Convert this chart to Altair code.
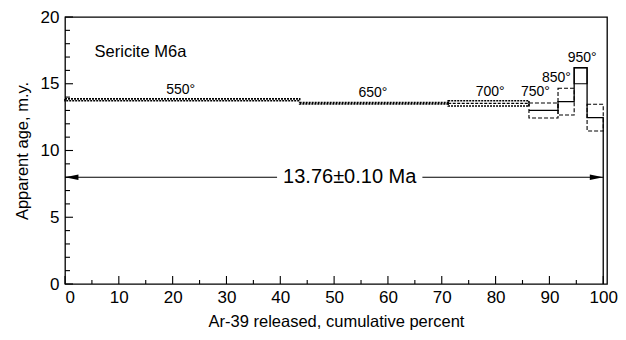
import altair as alt
import pandas as pd

# ---------------- data ----------------
step_temp = ["550°", "650°", "700°", "750°", "850°", "950°", ""]
step_start = [0.0, 43.6, 71.2, 86.2, 91.6, 94.6, 97.0]
step_end = [43.6, 71.2, 86.2, 91.6, 94.6, 97.0, 100.0]
step_age = [13.80, 13.54, 13.53, 13.00, 13.66, 15.60, 12.46]
step_err = [0.07, 0.06, 0.20, 0.56, 1.00, 0.60, 1.00]

label_x = [21.5, 57.2, 79.0, 87.4, 91.3, 96.1]
label_y = [14.5, 14.3, 14.4, 14.4, 15.4, 16.9]

sample_name = "Sericite M6a"
plateau_text = "13.76±0.10 Ma"
plateau_from = 0.0
plateau_to = 100.0
arrow_level = 8.0
text_gap = [39.4, 66.4]

x_ticks = list(range(0, 101, 10))
x_minor = list(range(5, 100, 10))
y_ticks = [0, 5, 10, 15, 20]
y_minor = [v for v in range(1, 20) if v % 5 != 0]

W, H = 542, 267
FONT = "Liberation Sans"

xs = alt.Scale(domain=[0, 100.7], nice=False, zero=False)
ys = alt.Scale(domain=[0, 20], nice=False)

axis_x = alt.Axis(values=x_ticks, title="Ar-39 released, cumulative percent",
                  ticks=False, domain=False, grid=False, labelPadding=5, titlePadding=8)
axis_y = alt.Axis(values=y_ticks, title="Apparent age, m.y.", ticks=False,
                  domain=False, grid=False, labelPadding=6, titlePadding=10)


def X(f):
    return alt.X(f, scale=xs, axis=axis_x)


def Y(f):
    return alt.Y(f, scale=ys, axis=axis_y)


# ---------------- tables ----------------
kinds = []
for i in range(len(step_start)):
    if i <= 2:
        kinds.append("fine")
    elif step_temp[i] == "950°":
        kinds.append("solid")
    else:
        kinds.append("dash")

boxes = pd.DataFrame({
    "x0": step_start, "x1": step_end,
    "lo": [a - e for a, e in zip(step_age, step_err)],
    "hi": [a + e for a, e in zip(step_age, step_err)],
    "age": step_age, "kind": kinds,
})

line_pts = []
for i in range(3, len(step_start)):
    lvl = step_age[i] + step_err[i] if kinds[i] == "solid" else step_age[i]
    line_pts.append({"x": step_start[i], "y": lvl})
line_pts.append({"x": plateau_to, "y": 0.0})
line_df = pd.DataFrame(line_pts)

labels = pd.DataFrame({"x": label_x, "y": label_y, "t": step_temp[:6]})


def box_layer(kind, dash, width):
    sub = boxes[boxes["kind"] == kind]
    return alt.Chart(sub).mark_rect(fillOpacity=0, fill="white", stroke="black",
                                    strokeDash=dash, strokeWidth=width).encode(
        x=X("x0:Q"), x2="x1:Q", y=Y("lo:Q"), y2="hi:Q")


rect_fine = box_layer("fine", [2, 1], 1.6)
rect_dash = box_layer("dash", [4, 2], 1.1)
rect_solid = box_layer("solid", [1, 0], 1.2)

mid_line = alt.Chart(boxes.iloc[[2]]).mark_rule(color="black", strokeWidth=1.1, strokeDash=[3, 1.5]).encode(
    x=X("x0:Q"), x2="x1:Q", y=Y("age:Q"))

spectrum = alt.Chart(line_df).mark_line(color="black", strokeWidth=1.3, interpolate="step-after").encode(
    x=X("x:Q"), y=Y("y:Q"))

temp_text = alt.Chart(labels).mark_text(font=FONT, fontSize=14, baseline="bottom", dy=7).encode(
    x=X("x:Q"), y=Y("y:Q"), text="t:N")

arrow_df = pd.DataFrame({"a": [plateau_from, text_gap[1]], "b": [text_gap[0], plateau_to],
                         "y": [arrow_level, arrow_level]})
arrow_lines = alt.Chart(arrow_df).mark_rule(color="black", strokeWidth=1.1).encode(
    x=X("a:Q"), x2="b:Q", y=Y("y:Q"))

heads = pd.DataFrame({"x": [plateau_from, plateau_to], "y": [arrow_level, arrow_level]})
head_l = alt.Chart(heads.iloc[[0]]).mark_point(
    shape="M0,0L2,-0.4L2,0.4Z", filled=True, color="black", size=180, opacity=1).encode(
    x=X("x:Q"), y=Y("y:Q"))
head_r = alt.Chart(heads.iloc[[1]]).mark_point(
    shape="M0,0L-2,-0.4L-2,0.4Z", filled=True, color="black", size=180, opacity=1).encode(
    x=X("x:Q"), y=Y("y:Q"))

ptxt = alt.Chart(pd.DataFrame({"x": [sum(text_gap) / 2], "y": [arrow_level], "t": [plateau_text]})).mark_text(
    font=FONT, fontSize=20, baseline="middle").encode(
    x=X("x:Q"), y=Y("y:Q"), text="t:N")

name_txt = alt.Chart(pd.DataFrame({"x": [5.5], "y": [17.4], "t": [sample_name]})).mark_text(
    font=FONT, fontSize=16.5, align="left", baseline="middle").encode(
    x=X("x:Q"), y=Y("y:Q"), text="t:N")

# inward ticks
xt_l = alt.Chart(pd.DataFrame({"v": x_ticks})).mark_rule(color="black", strokeWidth=1.1).encode(
    x=X("v:Q"), y=alt.value(H), y2=alt.value(H - 8))
xm_l = alt.Chart(pd.DataFrame({"v": x_minor})).mark_rule(color="black", strokeWidth=1.1).encode(
    x=X("v:Q"), y=alt.value(H), y2=alt.value(H - 4))
yt_l = alt.Chart(pd.DataFrame({"v": y_ticks})).mark_rule(color="black", strokeWidth=1.1).encode(
    y=Y("v:Q"), x=alt.value(0), x2=alt.value(8))
ym_l = alt.Chart(pd.DataFrame({"v": y_minor})).mark_rule(color="black", strokeWidth=1.1).encode(
    y=Y("v:Q"), x=alt.value(0), x2=alt.value(5))

chart = alt.layer(
    rect_fine, rect_dash, rect_solid, mid_line, spectrum, temp_text, arrow_lines, head_l, head_r,
    ptxt, name_txt, xt_l, xm_l, yt_l, ym_l,
).properties(
    width=W, height=H,
    autosize=alt.AutoSizeParams(type="none"),
    padding={"left": 57, "top": 9, "right": 11, "bottom": 48},
    background="white",
).configure_view(
    stroke="black", strokeWidth=1.3,
).configure_axis(
    labelFont=FONT, titleFont=FONT, labelFontSize=17, titleFontSize=16.5,
    labelColor="black", titleColor="black", titleFontWeight="normal",
)

chart.save("out.html", embed_options={"renderer": "svg", "actions": False})
